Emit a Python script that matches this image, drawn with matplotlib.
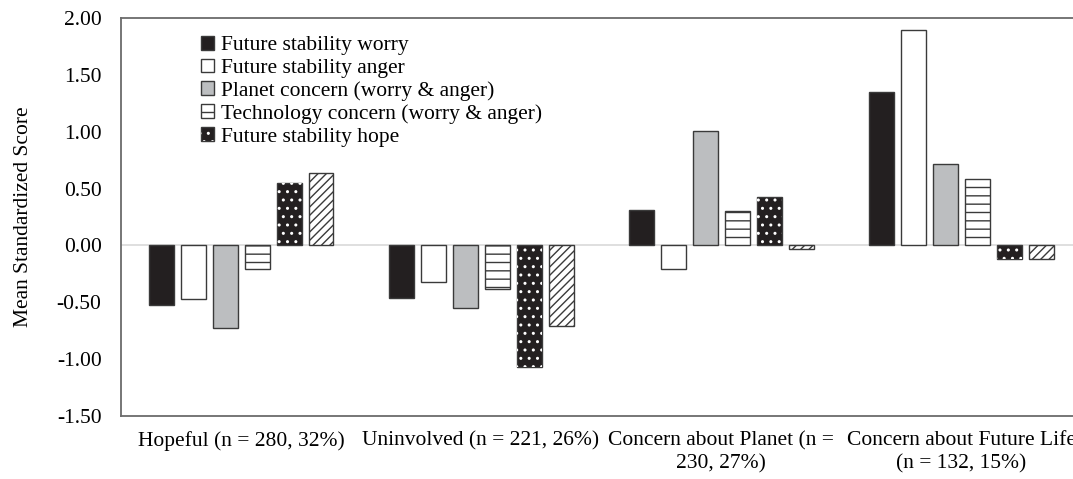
import numpy as np
import matplotlib
matplotlib.use("Agg")
import matplotlib.pyplot as plt
from matplotlib.legend_handler import HandlerTuple

# profile groups and the six standardized scores per group
groups = ["Hopeful (n = 280, 32%)", "Uninvolved (n = 221, 26%)",
          "Concern about Planet (n =\n230, 27%)", "Concern about Future Life\n(n = 132, 15%)"]
series = ["Future stability worry", "Future stability anger",
          "Planet concern (worry & anger)", "Technology concern (worry & anger)",
          "Future stability hope", "Technology hope"]

stability_worry = [-0.52, -0.46, 0.31, 1.35]
stability_anger = [-0.47, -0.32, -0.21, 1.89]
planet_concern = [-0.73, -0.55, 1.01, 0.72]
tech_concern = [-0.21, -0.38, 0.30, 0.58]
stability_hope = [0.55, -1.07, 0.43, -0.12]
tech_hope = [0.64, -0.71, -0.03, -0.12]

values = [stability_worry, stability_anger, planet_concern, tech_concern,
          stability_hope, tech_hope]

plt.rcParams["font.family"] = ["Liberation Serif", "DejaVu Serif"]
plt.rcParams["font.size"] = 15.5
plt.rcParams["hatch.linewidth"] = 1.0

fig = plt.figure(figsize=(10.73, 4.79), dpi=100)
# the plot box runs a little past the right edge of the picture (cropped original)
ax = fig.add_axes([0.1128, 0.1315, 0.8947, 0.831])

x = np.arange(len(groups))
step = 0.1333
width = 0.104
edge = "#3a3a3a"

styles = [
    dict(color="#231f20", hatch=None),
    dict(color="white", hatch=None),
    dict(color="#bcbec0", hatch=None),
    dict(color="white", hatch="--"),
    dict(color="#231f20", hatch=None),
    dict(color="white", hatch="////"),
]

handles = []
for i, (name, vals) in enumerate(zip(series, values)):
    pos = x + (i - 2.5) * step
    st = styles[i]
    b = ax.bar(pos, vals, width, color=st["color"], edgecolor=edge,
               linewidth=1.0, hatch=st["hatch"], zorder=3)
    h = b.patches[0]
    if i == 4:
        # white dots on black
        d = ax.bar(pos, vals, width, facecolor="none", edgecolor="white",
                   linewidth=0, hatch="..", zorder=4)
        h = (b.patches[0], d.patches[0])
    handles.append(h)

ax.axhline(0, color="#d9d9d9", linewidth=1.2, zorder=2)

ax.set_xlim(-0.5, len(groups) - 0.5)
ax.set_ylim(-1.5, 2.0)
ticks = np.arange(-1.5, 2.01, 0.5)
ax.set_yticks(ticks)
ax.set_yticklabels([f"{v:.2f}" for v in ticks])
ax.set_xticks(x)
ax.set_xticklabels(groups, linespacing=1.25)
ax.tick_params(axis="both", length=0)
ax.tick_params(axis="y", pad=14)
ax.tick_params(axis="x", pad=11)

for s in ax.spines.values():
    s.set_color("#6b6b6b")
    s.set_linewidth(1.3)

ax.set_ylabel("Mean Standardized Score", labelpad=17)

ax.legend(handles[:5], series[:5], loc="upper left", bbox_to_anchor=(0.0835, 0.955),
          frameon=False, borderpad=0, borderaxespad=0, handlelength=0.6,
          handleheight=0.6, handletextpad=0.3, labelspacing=0.15,
          handler_map={tuple: HandlerTuple(ndivide=1, pad=0)})

fig.savefig("out.png", dpi=100)
